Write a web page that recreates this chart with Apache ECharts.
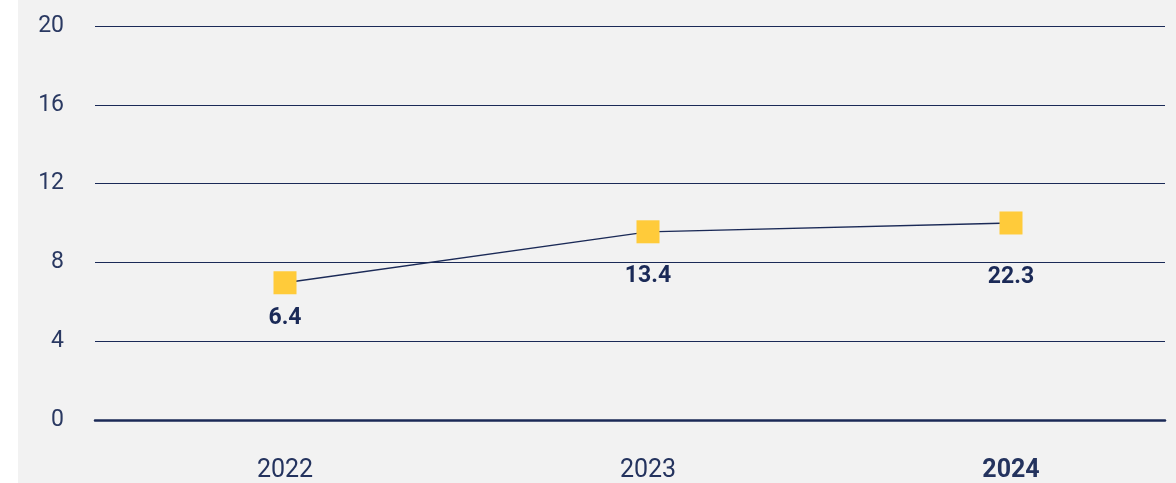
<!DOCTYPE html>
<html><head><meta charset="utf-8">
<script src="https://cdn.jsdelivr.net/npm/echarts@6/dist/echarts.min.js"></script>
<style>html,body{margin:0;padding:0;background:#fff}#c{width:1176px;height:483px}</style>
</head><body><div id="c"></div>
<script>
const categories = ['2022', '2023', '2024'];
const values = [6.9, 9.5, 9.95];
const labelTexts = ['6.4', '13.4', '22.3'];
const labelDistances = [12, 21, 31];
const yTicks = [0, 4, 8, 12, 16, 20];

const navy = '#1b2a57';
const chart = echarts.init(document.getElementById('c'));
chart.setOption({
  animation: false,
  backgroundColor: '#ffffff',
  graphic: [{type: 'rect', shape: {x: 18, y: 0, width: 1158, height: 483}, style: {fill: '#f2f2f2'}, z: -10, silent: true}],
  grid: [
    {left: 95, right: 11, top: 26, bottom: 63},
    {left: 285, right: 165, top: 26, bottom: 63}
  ],
  xAxis: [
    {gridIndex: 0, type: 'value', min: 0, max: 1, show: true,
     axisLine: {show: true, onZero: false, lineStyle: {color: navy, width: 2.5}},
     axisTick: {show: false}, axisLabel: {show: false}, splitLine: {show: false}},
    {gridIndex: 1, type: 'category', boundaryGap: false, data: categories.map((c, i) => i === 2 ? {value: c, textStyle: {fontWeight: 'bold', padding: [0, 0, 14, 0]}} : c),
     axisLine: {show: false}, axisTick: {show: false},
     axisLabel: {margin: 40, fontSize: 25, color: '#24335e', fontFamily: 'Roboto'}}
  ],
  yAxis: [
    {gridIndex: 0, type: 'value', min: yTicks[0], max: yTicks[yTicks.length - 1], interval: 4,
     axisLine: {show: false}, axisTick: {show: false},
     axisLabel: {margin: 31, fontSize: 23, color: '#2a3962', fontFamily: 'Roboto'},
     splitLine: {lineStyle: {color: navy, width: 1.2}}},
    {gridIndex: 1, type: 'value', min: yTicks[0], max: yTicks[yTicks.length - 1], interval: 4, show: false}
  ],
  series: [{
    type: 'line', xAxisIndex: 1, yAxisIndex: 1,
    data: values.map((v, i) => ({value: v, label: {distance: labelDistances[i], formatter: labelTexts[i]}})),
    symbol: 'rect', symbolSize: 23,
    itemStyle: {color: '#ffcb3a'},
    lineStyle: {color: navy, width: 1.3},
    z: 5,
    label: {show: true, position: 'bottom', fontSize: 23, fontWeight: 'bold', color: navy, fontFamily: 'Roboto'}
  }]
});
</script></body></html>
